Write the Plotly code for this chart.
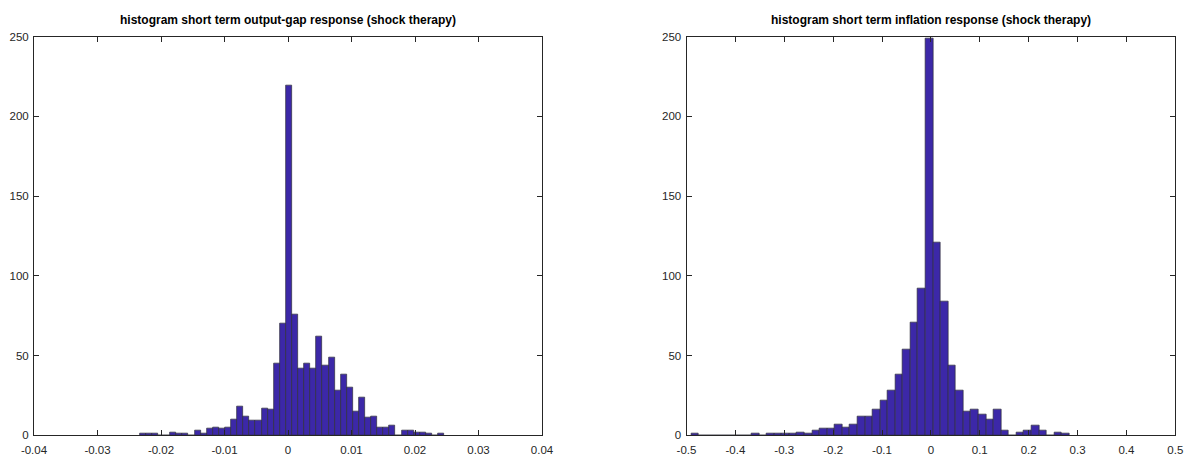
import plotly.graph_objects as go

# ---- data (MATLAB hist, 50 bins, N = 1000 draws each) ----
gap_bin_min = -0.02335
gap_bin_width = 0.000959
gap_counts = [1, 1, 1, 0, 0, 2, 1, 1, 0, 3,
              1, 4, 5, 4, 5, 10, 18, 12, 9, 9,
              17, 16, 45, 70, 219, 76, 42, 45, 42, 62,
              44, 49, 28, 38, 30, 15, 24, 11, 12, 5,
              5, 6, 0, 3, 3, 2, 2, 1, 0, 1]

inf_bin_min = -0.4907
inf_bin_width = 0.015476
inf_counts = [1, 0, 0, 0, 0, 0, 0, 0, 1, 0,
              1, 1, 1, 1, 2, 1, 3, 4, 4, 7,
              5, 7, 12, 12, 16, 22, 28, 38, 54, 71,
              92, 249, 121, 84, 44, 28, 15, 16, 13, 10,
              16, 3, 0, 2, 3, 6, 3, 0, 2, 1]

gap_ticks = [-0.04, -0.03, -0.02, -0.01, 0, 0.01, 0.02, 0.03, 0.04]
gap_ticklabels = ["-0.04", "-0.03", "-0.02", "-0.01", "0", "0.01", "0.02", "0.03", "0.04"]
inf_ticks = [-0.5, -0.4, -0.3, -0.2, -0.1, 0, 0.1, 0.2, 0.3, 0.4, 0.5]
inf_ticklabels = ["-0.5", "-0.4", "-0.3", "-0.2", "-0.1", "0", "0.1", "0.2", "0.3", "0.4", "0.5"]
y_ticks = [0, 50, 100, 150, 200, 250]

titles = ["histogram short term output-gap response (shock therapy)",
          "histogram short term inflation response (shock therapy)"]

BAR_COLOR = "#3c28a8"
EDGE_COLOR = "#2e2e3a"
FONT = "Liberation Sans, Arial, sans-serif"
W, H = 1185, 459


def centers(bmin, bw, n):
    return [bmin + bw * (i + 0.5) for i in range(n)]


fig = go.Figure()
fig.add_trace(go.Bar(
    x=centers(gap_bin_min, gap_bin_width, len(gap_counts)), y=gap_counts,
    width=[gap_bin_width] * len(gap_counts),
    marker=dict(color=BAR_COLOR, line=dict(color=EDGE_COLOR, width=0.7)),
    xaxis="x", yaxis="y", showlegend=False, hoverinfo="x+y"))
fig.add_trace(go.Bar(
    x=centers(inf_bin_min, inf_bin_width, len(inf_counts)), y=inf_counts,
    width=[inf_bin_width] * len(inf_counts),
    marker=dict(color=BAR_COLOR, line=dict(color=EDGE_COLOR, width=0.7)),
    xaxis="x2", yaxis="y2", showlegend=False, hoverinfo="x+y"))

# pixel geometry
L1, R1 = 34, 542
L2, R2 = 686.5, 1175.3
TOP, BOT = 36.5, 435.3
ydom = [(H - BOT) / H, (H - TOP) / H]

axis_common = dict(showline=True, linecolor="#262626", linewidth=1, mirror="ticks",
                   ticks="inside", ticklen=5, tickcolor="#262626", tickwidth=1,
                   showgrid=False, zeroline=False, automargin=False,
                   tickfont=dict(family=FONT, size=11.5, color="#262626"))

fig.update_layout(
    width=W, height=H, autosize=False,
    margin=dict(l=0, r=0, t=0, b=0, pad=0),
    paper_bgcolor="white", plot_bgcolor="white",
    bargap=0, barmode="overlay",
    xaxis=dict(domain=[L1 / W, R1 / W], range=[-0.04, 0.04], anchor="y",
               tickvals=gap_ticks, ticktext=gap_ticklabels, ticklabelstandoff=4,
               **axis_common),
    yaxis=dict(domain=ydom, range=[0, 250], anchor="x",
               tickvals=y_ticks, ticktext=[str(v) for v in y_ticks], ticklabelstandoff=2,
               **axis_common),
    xaxis2=dict(domain=[L2 / W, R2 / W], range=[-0.5, 0.5], anchor="y2",
                tickvals=inf_ticks, ticktext=inf_ticklabels, ticklabelstandoff=4,
                **axis_common),
    yaxis2=dict(domain=ydom, range=[0, 250], anchor="x2",
                tickvals=y_ticks, ticktext=[str(v) for v in y_ticks], ticklabelstandoff=2,
                **axis_common),
)

for title, (l, r) in zip(titles, [(L1, R1), (L2, R2)]):
    fig.add_annotation(text="<b>" + title + "</b>", xref="paper", yref="paper",
                       x=(l + r) / 2 / W, y=(H - 20) / H, xanchor="center", yanchor="middle",
                       showarrow=False, font=dict(family=FONT, size=12, color="#000000"))

fig.write_html("out.html")
